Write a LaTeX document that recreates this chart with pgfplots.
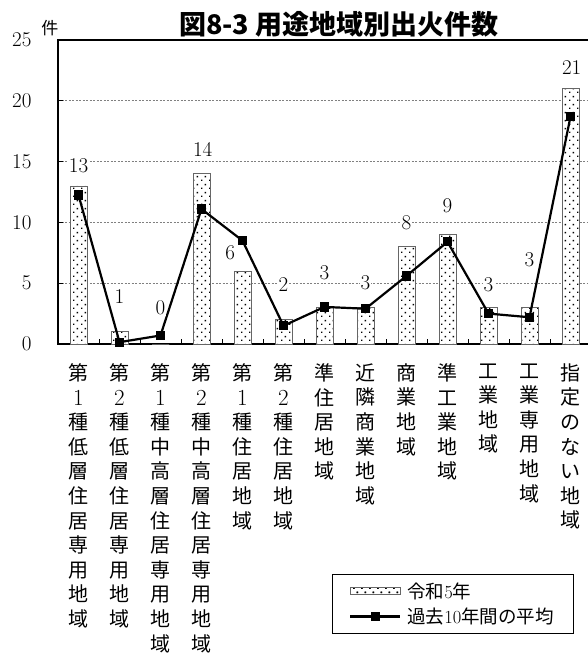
\documentclass[border=0pt]{standalone}
\usepackage{pgfplots}
\pgfplotsset{compat=1.18}
\usepackage{fontspec}
\newfontfamily\cjk{Noto Sans CJK JP}
\usetikzlibrary{patterns.meta}
\tikzdeclarepattern{
  name=mydots,
  type=uncolored,
  bounding box={(0pt,0pt) and (8pt,8pt)},
  tile size={(8pt,8pt)},
  code={
    \fill (1.2pt,1.2pt) rectangle (2.8pt,2.8pt);
    \fill (5.2pt,5.2pt) rectangle (6.8pt,6.8pt);
  }
}
\newcommand{\D}[1]{{\rmfamily #1}}
\newcommand{\N}[1]{{\rmfamily\fontsize{23}{24.6}\selectfont #1}}
\begin{document}
\begin{tikzpicture}
\begin{axis}[
  scale only axis,
  width=533pt, height=304pt,
  xmin=-0.5, xmax=12.5,
  ymin=0, ymax=25,
  clip=false,
  axis line style={line width=2.4pt},
  ytick={0,5,10,15,20,25},
  ytick pos=left,
  xtick pos=bottom,
  tick align=inside,
  major tick length=5pt,
  minor tick length=5pt,
  tick style={black, line width=0.7pt},
  xtick={0,...,12},
  minor x tick num=1,
  major x tick style={draw=none},
  ymajorgrids,
  grid style={gray, line width=0.6pt, dash pattern=on 2pt off 1.5pt},
  /pgf/number format/assume math mode=true,
  yticklabel style={font=\fontsize{21}{21}\selectfont, anchor=east, xshift=-23pt},
  xticklabel style={font=\cjk\fontsize{20}{24.6}\selectfont, align=center, anchor=north, yshift=-16pt},
  xticklabels={
    {第\\\N{1}\\種\\低\\層\\住\\居\\専\\用\\地\\域},
    {第\\\N{2}\\種\\低\\層\\住\\居\\専\\用\\地\\域},
    {第\\\N{1}\\種\\中\\高\\層\\住\\居\\専\\用\\地\\域},
    {第\\\N{2}\\種\\中\\高\\層\\住\\居\\専\\用\\地\\域},
    {第\\\N{1}\\種\\住\\居\\地\\域},
    {第\\\N{2}\\種\\住\\居\\地\\域},
    {準\\住\\居\\地\\域},
    {近\\隣\\商\\業\\地\\域},
    {商\\業\\地\\域},
    {準\\工\\業\\地\\域},
    {工\\業\\地\\域},
    {工\\業\\専\\用\\地\\域},
    {指\\定\\の\\な\\い\\地\\域}
  },
  legend style={at={(0.514,-0.758)}, anchor=north west, draw=black, line width=0.6pt,
    fill=white, font=\cjk\fontsize{18.5}{18.5}\selectfont, inner xsep=17pt, inner ysep=6pt,
    row sep=4pt, cells={anchor=west}},
  legend cell align=left,
]
\addplot[ybar, bar width=17pt, draw=gray!80!black, line width=0.7pt, fill=white,
  postaction={pattern=mydots},
  legend image code/.code={\draw[draw=gray!80!black, line width=0.6pt, fill=white, postaction={pattern=mydots}] (0pt,-3.5pt) rectangle (50pt,3.5pt);}]
  coordinates {(0,13) (1,1) (2,0) (3,14) (4,6) (5,2) (6,3) (7,3) (8,8) (9,9) (10,3) (11,3) (12,21)};
\addlegendentry{\hspace{4pt}令和\D{5}年}
\addplot[black, line width=2.2pt, mark=square*, mark size=3.5pt,
  legend image code/.code={\draw[black, line width=2.2pt, mark=square*, mark size=3.5pt, mark repeat=2,mark phase=2] plot coordinates {(0pt,0pt) (25pt,0pt) (50pt,0pt)};}]
  coordinates {(0,12.25) (1,0.15) (2,0.7) (3,11.1) (4,8.5) (5,1.5) (6,3.05) (7,2.9) (8,5.6) (9,8.4) (10,2.5) (11,2.2) (12,18.7)};
\addlegendentry{\hspace{4pt}過去\D{10}年間の平均}
\begin{scope}[every node/.style={font=\fontsize{21}{21}\selectfont, fill=white, inner sep=1pt}]
\node at (axis cs:0,14.7) {13};
\node at (axis cs:1,3.9) {1};
\node at (axis cs:2,3.0) {0};
\node at (axis cs:3.03,16.0) {14};
\node at (axis cs:3.7,7.5) {6};
\node at (axis cs:5,4.85) {2};
\node at (axis cs:6,5.9) {3};
\node at (axis cs:7,5.0) {3};
\node at (axis cs:8,10.0) {8};
\node at (axis cs:9,11.4) {9};
\node at (axis cs:10,4.85) {3};
\node at (axis cs:11,6.9) {3};
\node at (axis cs:12.03,22.7) {21};
\end{scope}
\node[font=\cjk\bfseries\fontsize{27}{27}\selectfont] at ([yshift=16pt]rel axis cs:0.527,1) {図8-3 用途地域別出火件数};
\node[font=\cjk\fontsize{17}{17}\selectfont] at ([xshift=-8pt,yshift=12pt]rel axis cs:0,1) {件};
\coordinate (BL) at (rel axis cs:0,0);
\coordinate (TL) at (rel axis cs:0,1);
\end{axis}
\pgfresetboundingbox
\path[use as bounding box] ([xshift=-58pt,yshift=-310pt]BL) rectangle ([xshift=529pt,yshift=40pt]TL);
\end{tikzpicture}
\end{document}
